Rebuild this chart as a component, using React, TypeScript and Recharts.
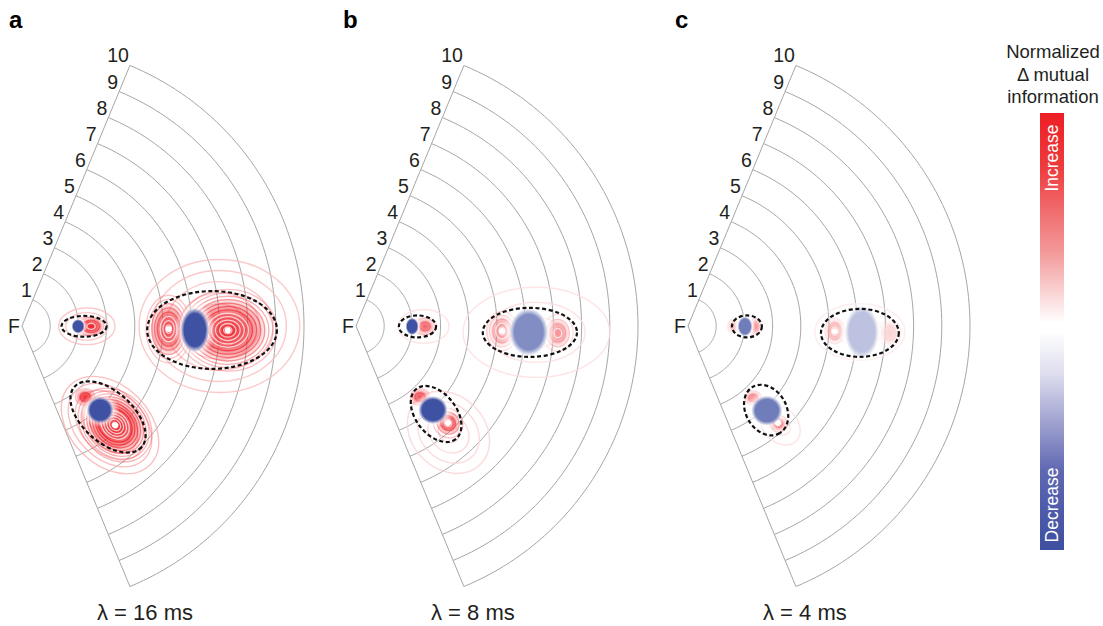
import React from 'react';
import { ScatterChart, Scatter, XAxis, YAxis } from 'recharts';

// polar grid: rings of the fan, labelled 1..10 along the upper edge
const RINGS = [1, 2, 3, 4, 5, 6, 7, 8, 9, 10];
const RING_LABELS = ['1', '2', '3', '4', '5', '6', '7', '8', '9', '10'];
const HALF_SPAN = 67.5; // degrees either side of the horizontal

const PANEL_LETTERS = ['a', 'b', 'c'];
const PANEL_TITLES = ['λ = 16 ms', 'λ = 8 ms', 'λ = 4 ms'];
const COLORBAR_TITLE = ['Normalized', 'Δ mutual', 'information'];

// r in ring units, theta in degrees (up = positive), a/b semi-axes in ring units,
// tilt in degrees, level -1 (decrease) .. 1 (increase)
const FIELDS_A = [
  { r: 2.2, theta: -0.3, a: 0.8, b: 0.37, tilt: 0 },
  { r: 6.74, theta: -1.2, a: 2.3, b: 1.38, tilt: 0 },
  { r: 4.44, theta: -46.6, a: 1.6, b: 0.9, tilt: -42 },
];
const CORES_A = [
  { r: 1.99, theta: -0.3, a: 0.21, b: 0.23, level: -1 },
  { r: 6.13, theta: -1.3, a: 0.46, b: 0.71, level: -1 },
  { r: 4.07, theta: -47.1, a: 0.43, b: 0.43, level: -1 },
];
const HOTSPOTS_A = [
  { r: 2.45, theta: -0.3, a: 0.45, b: 0.33, tilt: 0, rings: 3, level: 1 },
  { r: 5.2, theta: -1.2, a: 0.8, b: 1.2, tilt: 0, rings: 8, level: 0.85, dot: true },
  { r: 7.3, theta: -1.2, a: 1.75, b: 1.45, tilt: 0, rings: 12, level: 0.95, dot: true },
  { r: 3.37, theta: -48.4, a: 0.35, b: 0.3, tilt: 0, rings: 2, level: 0.9 },
  { r: 4.82, theta: -46.8, a: 1.45, b: 1.15, tilt: -45, rings: 13, level: 1, dot: true },
];
const HALOS_A = [
  { r: 2.3, theta: -0.3, a: 1.0, b: 0.65, tilt: 0, rings: 4, level: 0.3 },
  { r: 7.0, theta: 0, a: 2.85, b: 2.36, tilt: 0, rings: 6, level: 0.3 },
  { r: 4.7, theta: -48.4, a: 2.0, b: 1.4, tilt: -45, rings: 7, level: 0.35 },
];

const FIELDS_B = [
  { r: 2.18, theta: -0.4, a: 0.66, b: 0.39, tilt: 0 },
  { r: 6.17, theta: -2.1, a: 1.67, b: 0.87, tilt: 0 },
  { r: 4.22, theta: -47.7, a: 1.13, b: 0.72, tilt: -52 },
];
const CORES_B = [
  { r: 1.99, theta: -0.4, a: 0.21, b: 0.28, level: -1 },
  { r: 6.13, theta: -2.0, a: 0.62, b: 0.76, level: -0.65 },
  { r: 4.04, theta: -47.5, a: 0.47, b: 0.45, level: -1 },
];
const HOTSPOTS_B = [
  { r: 2.45, theta: -0.4, a: 0.35, b: 0.3, tilt: 0, rings: 2, level: 0.7 },
  { r: 5.18, theta: -2.0, a: 0.55, b: 0.7, tilt: 0, rings: 5, level: 0.55, dot: true },
  { r: 7.16, theta: -2.0, a: 0.55, b: 0.65, tilt: 0, rings: 4, level: 0.5 },
  { r: 3.39, theta: -48, a: 0.35, b: 0.3, tilt: 0, rings: 2, level: 0.8 },
  { r: 4.74, theta: -46.5, a: 0.55, b: 0.5, tilt: -45, rings: 4, level: 0.85, dot: true },
];
const HALOS_B = [
  { r: 2.4, theta: -0.4, a: 0.9, b: 0.6, tilt: 0, rings: 2, level: 0.15 },
  { r: 6.4, theta: -2.0, a: 2.6, b: 1.6, tilt: 0, rings: 3, level: 0.15 },
  { r: 5.0, theta: -49, a: 1.6, b: 1.3, tilt: -45, rings: 4, level: 0.2 },
];

const FIELDS_C = [
  { r: 2.09, theta: -0.4, a: 0.53, b: 0.39, tilt: 0 },
  { r: 6.1, theta: -2.3, a: 1.38, b: 0.85, tilt: 0 },
  { r: 4.07, theta: -47.1, a: 0.95, b: 0.72, tilt: -60 },
];
const CORES_C = [
  { r: 2.02, theta: -0.4, a: 0.24, b: 0.32, level: -0.75 },
  { r: 6.17, theta: -2.0, a: 0.55, b: 0.85, level: -0.35 },
  { r: 4.1, theta: -47, a: 0.5, b: 0.48, level: -0.75 },
];
const HOTSPOTS_C = [
  { r: 1.6, theta: -0.4, a: 0.2, b: 0.25, tilt: 0, rings: 1, level: 0.3 },
  { r: 2.4, theta: -0.4, a: 0.2, b: 0.3, tilt: 0, rings: 1, level: 0.5 },
  { r: 5.21, theta: -2.0, a: 0.35, b: 0.45, tilt: 0, rings: 3, level: 0.4, dot: true },
  { r: 7.16, theta: -2.0, a: 0.4, b: 0.5, tilt: 0, rings: 2, level: 0.2 },
  { r: 3.44, theta: -47.9, a: 0.3, b: 0.25, tilt: 0, rings: 2, level: 0.55 },
  { r: 4.69, theta: -47.1, a: 0.35, b: 0.3, tilt: -45, rings: 2, level: 0.55, dot: true },
];
const HALOS_C = [
  { r: 6.1, theta: -2.0, a: 1.6, b: 1.0, tilt: 0, rings: 2, level: 0.1 },
  { r: 4.8, theta: -47, a: 0.8, b: 0.6, tilt: -45, rings: 2, level: 0.15 },
];

const PANELS = [
  { fields: FIELDS_A, cores: CORES_A, hot: HOTSPOTS_A, halos: HALOS_A },
  { fields: FIELDS_B, cores: CORES_B, hot: HOTSPOTS_B, halos: HALOS_B },
  { fields: FIELDS_C, cores: CORES_C, hot: HOTSPOTS_C, halos: HALOS_C },
];

// layout
const FONT = 'Arial, "Liberation Sans", Helvetica, sans-serif';
const W = 330;
const H = 626;
const VX = 22; // vertex inside each chart
const VY = 326;
const U = 28.2; // px per ring
const PANEL_LEFT = [0, 334, 666];
const X_DOMAIN = [-VX / U, (W - VX) / U];
const Y_DOMAIN = [-(H - VY) / U, VY / U];
const INK = '#231f20';

const polar = (r: number, theta: number) => {
  const t = (theta * Math.PI) / 180;
  return { x: r * Math.cos(t), y: r * Math.sin(t) };
};

const RED = [237, 28, 36];
const BLUE = [63, 81, 163];
const levelColor = (v: number) => {
  const t = Math.min(1, Math.abs(v));
  const c = v >= 0 ? RED : BLUE;
  const m = (k: number) => Math.round(255 + (c[k] - 255) * t);
  return `rgb(${m(0)},${m(1)},${m(2)})`;
};

const arcPoints = (r: number) => {
  const pts = [];
  for (let a = HALF_SPAN; a >= -HALF_SPAN - 1e-6; a -= 1.5) pts.push(polar(r, a));
  return pts;
};
const edgePoints = [polar(10, HALF_SPAN), { x: 0, y: 0 }, polar(10, -HALF_SPAN)];

const Nothing = () => <g />;

const RingLabel = (p: any) => (
  <text x={p.cx - 1} y={p.cy - 3} textAnchor="end" fontSize={19.5} fill={INK} fontFamily={FONT}>
    {p.payload.label}
  </text>
);

const VertexLabel = (p: any) => (
  <text x={p.cx - 2} y={p.cy + 7} textAnchor="end" fontSize={19.5} fill={INK} fontFamily={FONT}>
    F
  </text>
);

const HaloShape = (p: any) => {
  const { cx, cy, payload: d } = p;
  const c = levelColor(d.level);
  const items = [];
  for (let i = 1; i <= d.rings; i++) {
    const f = i / d.rings;
    items.push(
      <ellipse key={i} cx={cx} cy={cy} rx={d.a * U * f} ry={d.b * U * f} fill="none"
        stroke={c} strokeWidth={1.4} strokeOpacity={0.8} />
    );
  }
  return <g transform={`rotate(${-d.tilt} ${cx} ${cy})`}>{items}</g>;
};

const HotShape = (p: any) => {
  const { cx, cy, payload: d } = p;
  const c = levelColor(d.level);
  const rings = [];
  for (let i = 1; i <= d.rings; i++) {
    const f = i / d.rings;
    const inner = f < 0.45;
    rings.push(
      <ellipse key={i} cx={cx} cy={cy} rx={d.a * U * f} ry={d.b * U * f} fill="none"
        stroke={inner ? '#fff' : c} strokeWidth={1.3}
        strokeOpacity={inner ? 0.7 : Math.max(0.3, 1.2 - f)} />
    );
  }
  const spread = d.rings <= 3 ? 1.0 : 0.8;
  return (
    <g transform={`rotate(${-d.tilt} ${cx} ${cy})`}>
      <defs>
        <radialGradient id={d.key}>
          <stop offset="0" stopColor={c} stopOpacity={1} />
          <stop offset="0.5" stopColor={c} stopOpacity={0.7} />
          <stop offset="1" stopColor={c} stopOpacity={0} />
        </radialGradient>
      </defs>
      <ellipse cx={cx} cy={cy} rx={d.a * U * spread} ry={d.b * U * spread} fill={`url(#${d.key})`} />
      {rings}
      {d.dot && <circle cx={cx} cy={cy} r={3} fill="#fff" />}
    </g>
  );
};

const CoreShape = (p: any) => {
  const { cx, cy, payload: d } = p;
  const c = levelColor(d.level);
  const rx = d.a * U;
  const ry = d.b * U;
  return (
    <g>
      <defs>
        <radialGradient id={`${d.key}-h`}>
          <stop offset="0.55" stopColor="#fff" stopOpacity={1} />
          <stop offset="1" stopColor="#fff" stopOpacity={0} />
        </radialGradient>
        <radialGradient id={`${d.key}-c`}>
          <stop offset="0.75" stopColor={c} stopOpacity={1} />
          <stop offset="1" stopColor={c} stopOpacity={0} />
        </radialGradient>
      </defs>
      <ellipse cx={cx} cy={cy} rx={rx * 1.6} ry={ry * 1.4} fill={`url(#${d.key}-h)`} />
      <ellipse cx={cx} cy={cy} rx={rx * 1.1} ry={ry * 1.1} fill={`url(#${d.key}-c)`} />
    </g>
  );
};

const FieldShape = (p: any) => {
  const { cx, cy, payload: d } = p;
  return (
    <ellipse cx={cx} cy={cy} rx={d.a * U} ry={d.b * U} fill="none" stroke="#111"
      strokeWidth={2.2} strokeDasharray="4 2.6" transform={`rotate(${-d.tilt} ${cx} ${cy})`} />
  );
};

const withPos = (list: any[], tag: string) =>
  list.map((d, i) => ({ ...polar(d.r, d.theta), ...d, key: `${tag}-${i}` }));

const ringLabelData = RINGS.map((r, i) => ({ ...polar(r, HALF_SPAN), label: RING_LABELS[i] }));

const PolarPanel = ({ idx }: { idx: number }) => {
  const p = PANELS[idx];
  return (
    <ScatterChart width={W} height={H} margin={{ top: 0, right: 0, bottom: 0, left: 0 }}>
      <XAxis type="number" dataKey="x" domain={X_DOMAIN} hide allowDataOverflow />
      <YAxis type="number" dataKey="y" domain={Y_DOMAIN} hide allowDataOverflow />
      {RINGS.map((r) => (
        <Scatter key={`ring-${r}`} data={arcPoints(r)} line={{ stroke: '#a6a6a6', strokeWidth: 1 }}
          shape={Nothing} isAnimationActive={false} />
      ))}
      <Scatter data={edgePoints} line={{ stroke: '#a6a6a6', strokeWidth: 1 }} shape={Nothing}
        isAnimationActive={false} />
      <Scatter data={withPos(p.halos, `halo${idx}`)} shape={HaloShape} isAnimationActive={false} />
      <Scatter data={withPos(p.hot, `hot${idx}`)} shape={HotShape} isAnimationActive={false} />
      <Scatter data={withPos(p.cores, `core${idx}`)} shape={CoreShape} isAnimationActive={false} />
      <Scatter data={withPos(p.fields, `field${idx}`)} shape={FieldShape} isAnimationActive={false} />
      <Scatter data={ringLabelData} shape={RingLabel} isAnimationActive={false} />
      <Scatter data={[{ x: 0, y: 0 }]} shape={VertexLabel} isAnimationActive={false} />
    </ScatterChart>
  );
};

export default function App() {
  return (
    <div style={{ position: 'absolute', left: 0, top: 0, width: 1103, height: 626, background: '#fff', fontFamily: FONT }}>
      {PANEL_LEFT.map((left, i) => (
        <div key={i} style={{ position: 'absolute', left, top: 0 }}>
          <PolarPanel idx={i} />
        </div>
      ))}
      <svg width={1103} height={626} style={{ position: 'absolute', left: 0, top: 0, pointerEvents: 'none' }}>
        <defs>
          <linearGradient id="cbar" x1="0" y1="0" x2="0" y2="1">
            <stop offset="0" stopColor="#ed1f24" />
            <stop offset="0.12" stopColor="#ee3a3c" />
            <stop offset="0.32" stopColor="#f39a9b" />
            <stop offset="0.48" stopColor="#ffffff" />
            <stop offset="0.5" stopColor="#ffffff" />
            <stop offset="0.6" stopColor="#dcdcee" />
            <stop offset="0.71" stopColor="#9ea1cf" />
            <stop offset="0.82" stopColor="#5f67b1" />
            <stop offset="1" stopColor="#3d4fa1" />
          </linearGradient>
        </defs>
        {PANEL_LETTERS.map((l, i) => (
          <text key={l} x={PANEL_LEFT[i] + VX - 13} y={28} fontSize={24} fontWeight="bold" fill="#000" fontFamily={FONT}>
            {l}
          </text>
        ))}
        {PANEL_TITLES.map((t, i) => (
          <text key={t} x={PANEL_LEFT[i] + VX + 75} y={620} fontSize={22} fill={INK} fontFamily={FONT}>
            {t}
          </text>
        ))}
        {COLORBAR_TITLE.map((t, i) => (
          <text key={t} x={1053} y={58 + i * 22.5} textAnchor="middle" fontSize={18.5} fill={INK} fontFamily={FONT}>
            {t}
          </text>
        ))}
        <rect x={1040} y={113} width={24} height={437} fill="url(#cbar)" />
        <text x={1052} y={158} transform="rotate(-90 1052 158)" textAnchor="middle" dominantBaseline="central"
          fill="#fff" fontSize={17.5} fontFamily={FONT}>
          Increase
        </text>
        <text x={1052} y={505} transform="rotate(-90 1052 505)" textAnchor="middle" dominantBaseline="central"
          fill="#fff" fontSize={17.5} fontFamily={FONT}>
          Decrease
        </text>
      </svg>
    </div>
  );
}
